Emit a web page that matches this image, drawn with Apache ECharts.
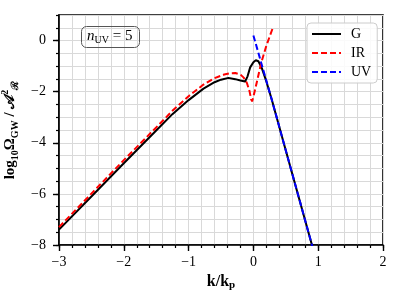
<!DOCTYPE html>
<html><head><meta charset="utf-8">
<script src="https://cdn.jsdelivr.net/npm/echarts@6/dist/echarts.min.js"></script>
<style>html,body{margin:0;padding:0;background:#fff}#c{width:399px;height:299px}</style>
</head><body><div id="c"></div>
<script>
// G (total) curve
const kG = [-3, -2.5, -2, -1.5, -1.25, -1.0, -0.77, -0.6, -0.5, -0.385, -0.28, -0.2, -0.128, -0.09, -0.05, 0.0, 0.037, 0.077, 0.13, 0.2, 0.283, 0.5, 0.92];
const yG = [-7.40, -6.1, -4.8, -3.52, -2.88, -2.33, -1.88, -1.63, -1.53, -1.46, -1.51, -1.56, -1.6, -1.4, -1.05, -0.85, -0.77, -0.81, -1.08, -1.6, -2.31, -4.3, -8.15];
// IR approximation
const kIR = [-3, -2.5, -2, -1.5, -1.25, -1.0, -0.77, -0.6, -0.45, -0.36, -0.28, -0.2, -0.15, -0.1, -0.06, -0.035, -0.02, 0.0, 0.05, 0.12, 0.2, 0.3];
const yIR = [-7.30, -5.99, -4.68, -3.4, -2.75, -2.18, -1.72, -1.47, -1.33, -1.28, -1.27, -1.33, -1.45, -1.66, -1.98, -2.3, -2.38, -2.2, -1.66, -0.88, -0.2, 0.5];
// UV approximation
const kUV = [0.0, 0.283, 0.5, 0.92];
const yUV = [0.2, -2.31, -4.3, -8.15];
// ticks
const xLabels = [-3, -2, -1, 0, 1, 2];
const yLabels = [-8, -6, -4, -2, 0];

const pairs = (k, y) => k.map((v, i) => [v, y[i]]);
const fmt = v => String(Math.round(v)).replace('-', '\u2212');
const serif = '"Liberation Serif", "DejaVu Serif", serif';

const chart = echarts.init(document.getElementById('c'), null, {renderer: 'canvas'});
chart.setOption({
  animation: false,
  textStyle: {fontFamily: serif},
  grid: {left: 59, right: 16, top: 15, bottom: 54, containLabel: false, outerBoundsMode: 'none',
    show: true, borderColor: '#000', borderWidth: 1.6, backgroundColor: 'transparent'},
  title: {
    text: '{i|n}{s|UV}{r| = 5}',
    left: 81, top: 25,
    padding: [3, 7, 3, 6],
    borderColor: '#555', borderWidth: 1, borderRadius: 5,
    textStyle: {
      fontWeight: 'normal',
      rich: {
        i: {fontFamily: serif, fontStyle: 'italic', fontWeight: 'normal', fontSize: 15, color: '#000', lineHeight: 17, verticalAlign: 'middle'},
        s: {fontFamily: serif, fontWeight: 'normal', fontSize: 10, color: '#000', verticalAlign: 'bottom', lineHeight: 10},
        r: {fontFamily: serif, fontWeight: 'normal', fontSize: 15, color: '#000', lineHeight: 17, verticalAlign: 'middle'}
      }
    }
  },
  legend: {
    orient: 'vertical', left: 307, top: 23,
    padding: [4, 6, 4, 4],
    itemWidth: 29, itemHeight: 14, itemGap: 5,
    borderColor: '#ccc', borderWidth: 1, borderRadius: 4,
    backgroundColor: 'rgba(255,255,255,0.85)',
    itemStyle: {opacity: 0},
    textStyle: {fontFamily: serif, fontSize: 14, color: '#000', padding: [0, 0, 0, 5]},
    data: ['G', 'IR', 'UV']
  },
  xAxis: [{
    type: 'value', min: -3, max: 2, interval: 0.2,
    axisLine: {show: true, onZero: false, lineStyle: {color: '#000', width: 1.6}},
    axisTick: {show: true, length: 3, lineStyle: {color: '#000', width: 1.2}},
    splitLine: {show: true, lineStyle: {color: '#d9d9d9', width: 1}},
    axisLabel: {customValues: xLabels, formatter: fmt, fontSize: 14, color: '#000', margin: 10, fontFamily: serif},
    name: '{b|k/k}{s|p}', nameLocation: 'middle', nameGap: 27,
    nameTextStyle: {rich: {
      b: {fontFamily: serif, fontWeight: 'bold', fontSize: 16, color: '#000', lineHeight: 18, verticalAlign: 'middle'},
      s: {fontFamily: serif, fontWeight: 'bold', fontSize: 11, color: '#000', lineHeight: 11, verticalAlign: 'bottom'}
    }}
  }, {
    type: 'value', min: -3, max: 2, interval: 1, position: 'bottom',
    axisLine: {show: false, onZero: false},
    axisTick: {show: true, length: 6, customValues: xLabels, lineStyle: {color: '#000', width: 1.4}},
    splitLine: {show: false}, axisLabel: {show: false}
  }],
  yAxis: [{
    type: 'value', min: -8, max: 1, interval: 0.5,
    axisLine: {show: true, onZero: false, lineStyle: {color: '#000', width: 1.6}},
    axisTick: {show: true, length: 3, lineStyle: {color: '#000', width: 1.2}},
    splitLine: {show: true, lineStyle: {color: '#d9d9d9', width: 1}},
    axisLabel: {customValues: yLabels, formatter: fmt, fontSize: 14, color: '#000', margin: 13, fontFamily: serif},
    name: '{b|log}{s|10}{b|Ω}{s|GW}{b| / 𝒜}{p|2}{s|ℛ}', nameLocation: 'middle', nameGap: 34, nameRotate: 90,
    nameTextStyle: {rich: {
      b: {fontFamily: serif, fontWeight: 'bold', fontSize: 15, color: '#000', lineHeight: 20, verticalAlign: 'middle'},
      s: {fontFamily: serif, fontWeight: 'bold', fontSize: 10, color: '#000', lineHeight: 10, verticalAlign: 'bottom'},
      p: {fontFamily: serif, fontWeight: 'bold', fontSize: 10, color: '#000', lineHeight: 10, verticalAlign: 'top'}
    }}
  }, {
    type: 'value', min: -8, max: 1, interval: 2, position: 'left',
    axisLine: {show: false, onZero: false},
    axisTick: {show: true, length: 6, customValues: yLabels, lineStyle: {color: '#000', width: 1.4}},
    splitLine: {show: false}, axisLabel: {show: false}
  }],
  series: [{
    name: 'G', type: 'line', data: pairs(kG, yG), xAxisIndex: 0, yAxisIndex: 0,
    symbol: 'none', smooth: false, clip: true,
    lineStyle: {color: '#000', width: 2, type: 'solid'}, itemStyle: {color: '#000'}
  }, {
    name: 'IR', type: 'line', data: pairs(kIR, yIR), xAxisIndex: 0, yAxisIndex: 0,
    symbol: 'none', smooth: false, clip: true,
    lineStyle: {color: '#ff0000', width: 2, type: [6, 3]}, itemStyle: {color: '#ff0000'}
  }, {
    name: 'UV', type: 'line', data: pairs(kUV, yUV), xAxisIndex: 0, yAxisIndex: 0,
    symbol: 'none', smooth: false, clip: true,
    lineStyle: {color: '#0000ff', width: 2, type: [6, 3]}, itemStyle: {color: '#0000ff'}
  }]
});
</script></body></html>
